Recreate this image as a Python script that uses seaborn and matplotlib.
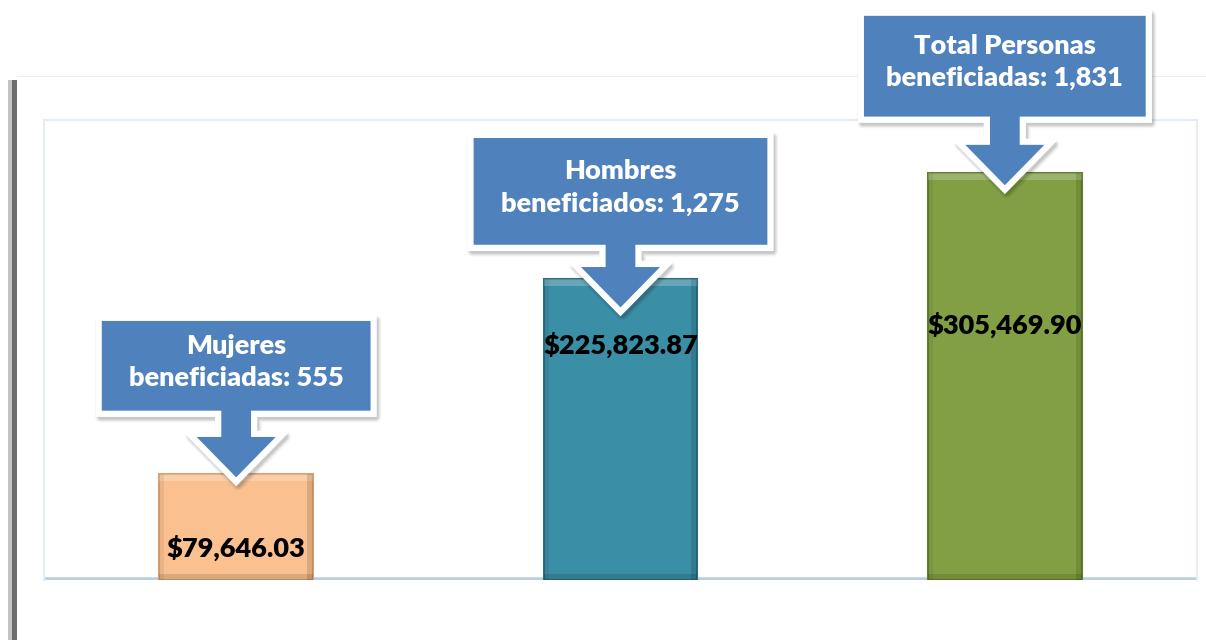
import matplotlib
matplotlib.use("Agg")
import matplotlib.pyplot as plt
import seaborn as sns
import pandas as pd
from matplotlib.patches import Polygon, Rectangle
from matplotlib.transforms import IdentityTransform

# ---- data ----
categories = ["Mujeres", "Hombres", "Total"]
amounts = [79646.03, 225823.87, 305469.90]
amount_labels = ["$79,646.03", "$225,823.87", "$305,469.90"]
callout_texts = ["Mujeres\nbeneficiadas: 555",
                 "Hombres\nbeneficiados: 1,275",
                 "Total Personas\nbeneficiadas: 1,831"]
bar_colors = ["#FAC090", "#3A8EA5", "#82A043"]
edge_colors = ["#D9A070", "#2A6E80", "#62802F"]

# ---- layout (positions / sizes, not data) ----
label_y = [24000, 176000, 191000]
tip_drop = [8, 33, 17]
box_w = [275, 300, 288]
box_h = [96, 113, 107]
gap = [68, 64, 70]
SHAFT_W, HEAD_W, HEAD_H = 36, 94, 48

sns.set_theme(style="white")
plt.rcParams['font.family'] = ['Lato', 'DejaVu Sans']

W, H, DPI = 1206, 640, 100
fig = plt.figure(figsize=(W / DPI, H / DPI), dpi=DPI)
fig.patch.set_facecolor("white")

ax = fig.add_axes([44 / W, 60 / H, (1197 - 44) / W, (580 - 120) / H])
df = pd.DataFrame({"cat": categories, "amount": amounts})
sns.barplot(data=df, x="cat", y="amount", hue="cat", palette=bar_colors,
            width=0.4, legend=False, ax=ax, saturation=1)
ax.set_xlim(-0.5, 2.5)
ax.set_ylim(0, 345000)
ax.set_xticks([])
ax.set_yticks([])
ax.set_xlabel("")
ax.set_ylabel("")
for side in ["left", "top", "right"]:
    ax.spines[side].set_visible(True)
    ax.spines[side].set_color("#E6ECF6")
    ax.spines[side].set_linewidth(1.5)
ax.spines["bottom"].set_visible(False)
ax.axhline(0, color="#B9CDE5", lw=4, zorder=1, solid_capstyle="butt")

fig.canvas.draw()
# px -> data conversions for bevel decoration
px_x = 1.0 / (ax.transData.transform((1, 0))[0] - ax.transData.transform((0, 0))[0])
px_y = 1.0 / (ax.transData.transform((0, 1))[1] - ax.transData.transform((0, 0))[1])

for p, ec in zip(list(ax.patches), edge_colors):
    p.set_edgecolor(ec)
    p.set_linewidth(1.5)
    p.set_zorder(3)
    x0, w = p.get_x(), p.get_width()
    h = p.get_height()
    # bevel: light top, darker right and bottom
    ax.add_patch(Rectangle((x0, h - 7 * px_y), w, 7 * px_y, facecolor="white",
                           alpha=0.22, edgecolor="none", zorder=4))
    ax.add_patch(Rectangle((x0 + w - 6 * px_x, 0), 6 * px_x, h, facecolor="black",
                           alpha=0.12, edgecolor="none", zorder=4))
    ax.add_patch(Rectangle((x0, 0), 5 * px_x, h, facecolor="black",
                           alpha=0.06, edgecolor="none", zorder=4))
    ax.add_patch(Rectangle((x0, 0), w, 6 * px_y, facecolor="black",
                           alpha=0.12, edgecolor="none", zorder=4))

# amount labels
for i, (lab, ly) in enumerate(zip(amount_labels, label_y)):
    ax.text(i, ly, lab, ha="center", va="center", fontsize=19.5,
            fontweight="heavy", color="black", zorder=6)

# frame decorations
fig.add_artist(Rectangle((8, 0), 4, 560, transform=IdentityTransform(),
                         facecolor="#C4C4C4", edgecolor="none"))
fig.add_artist(Rectangle((12, 0), 5, 560, transform=IdentityTransform(),
                         facecolor="#6E6E6E", edgecolor="none"))
fig.add_artist(Rectangle((17, 563), W - 17, 1.5, transform=IdentityTransform(),
                         facecolor="#EFEFEF", edgecolor="none"))

# callouts
for i, v in enumerate(amounts):
    bx, by = ax.transData.transform((i, v))
    tx, ty = bx, by - tip_drop[i]
    bw, bh, g = box_w[i], box_h[i], gap[i]
    bot = ty + g
    top = bot + bh
    shoulder = ty + HEAD_H
    pts = [(tx - bw / 2, top), (tx + bw / 2, top), (tx + bw / 2, bot),
           (tx + SHAFT_W / 2, bot), (tx + SHAFT_W / 2, shoulder),
           (tx + HEAD_W / 2, shoulder), (tx, ty),
           (tx - HEAD_W / 2, shoulder), (tx - SHAFT_W / 2, shoulder),
           (tx - SHAFT_W / 2, bot), (tx - bw / 2, bot)]
    for k, a in [(8, 0.05), (6, 0.07), (4, 0.1)]:
        sh = [(x + 2, y - 3) for x, y in pts]
        fig.add_artist(Polygon(sh, closed=True, transform=IdentityTransform(),
                               facecolor="none", edgecolor="#000000",
                               lw=k, alpha=a, joinstyle="round", zorder=8))
    fig.add_artist(Polygon(pts, closed=True, transform=IdentityTransform(),
                           facecolor="#4F81BD", edgecolor="white", lw=4.5,
                           joinstyle="miter", zorder=9))
    fig.text(tx / W, (bot + bh / 2 + 4) / H, callout_texts[i], ha="center",
             va="center", fontsize=19.5, fontweight="heavy", color="white",
             linespacing=1.4, zorder=10)

fig.savefig("out.png", dpi=DPI, facecolor="white")
